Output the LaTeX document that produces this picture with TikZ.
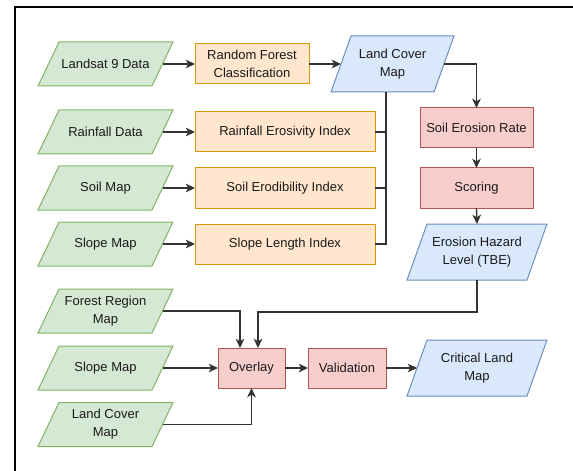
\documentclass[tikz,border=0pt]{standalone}
\usepackage{fontspec}
\setmainfont{Liberation Sans}
\usetikzlibrary{arrows.meta,calc,backgrounds}
\definecolor{gfill}{HTML}{D5E8D4}\definecolor{gdraw}{HTML}{82B366}
\definecolor{ofill}{HTML}{FFE6CC}\definecolor{odraw}{HTML}{D79B00}
\definecolor{bfill}{HTML}{DAE8FC}\definecolor{bdraw}{HTML}{6C8EBF}
\definecolor{rfill}{HTML}{F8CECC}\definecolor{rdraw}{HTML}{B85450}
\definecolor{edgec}{HTML}{333333}
\definecolor{txt}{HTML}{1A1A1A}
\begin{document}
\begin{tikzpicture}[x=0.75pt,y=-0.75pt,
  base/.style={font=\fontsize{9.75}{13.5}\selectfont, text=txt, line width=0.75pt, inner sep=0pt, outer sep=0pt, align=center},
  greenpara/.style={base, rectangle, minimum width=85.5pt, minimum height=33pt},
  bluepara/.style={base, rectangle, minimum height=42pt},
  greenshape/.style={fill=gfill, draw=gdraw, line width=0.75pt},
  blueshape/.style={fill=bfill, draw=bdraw, line width=0.75pt},
  orangebox/.style={base, rectangle, minimum height=30pt, fill=ofill, draw=odraw},
  redbox/.style={base, rectangle, minimum height=30pt, fill=rfill, draw=rdraw},
  ln/.style={draw=edgec, line width=1pt},
  arr/.style={ln, -{Stealth[length=7pt,width=6.5pt,inset=2pt]}}
]
\useasboundingbox (0,0) rectangle (573,470);
\draw[line width=1.5pt] (15,480) -- (15,7) -- (585,7);

% row 1
\node[greenpara] (ls) at (105.5,64) {Landsat 9 Data};
\node[orangebox, minimum width=85.5pt] (rf) at (252,64) {Random Forest\\Classification};
\node[bluepara, minimum width=77.25pt] (lc) at (392.5,64) {Land Cover\\Map};

% index rows
\node[greenpara] (rd) at (105.5,132) {Rainfall Data};
\node[orangebox, minimum width=135pt] (rei) at (285,132) {Rainfall Erosivity Index};
\node[greenpara] (sm) at (105.5,188) {Soil Map};
\node[orangebox, minimum width=135pt] (sei) at (285,188) {Soil Erodibility Index};
\node[greenpara] (slm) at (105.5,244) {Slope Map};
\node[orangebox, minimum width=135pt] (sli) at (285,244) {Slope Length Index};

% right column
\node[redbox, minimum width=84.75pt] (ser) at (476.5,128) {Soil Erosion Rate};
\node[redbox, minimum width=84.75pt] (sc) at (476.5,188) {Scoring};
\node[bluepara, minimum width=90pt] (tbe) at (477,252) {Erosion Hazard\\Level (TBE)};

% bottom
\node[greenpara] (frm) at (105.5,311) {Forest Region\\Map};
\node[greenpara] (sm2) at (105.5,368) {Slope Map};
\node[greenpara] (lc2) at (105.5,424.5) {Land Cover\\Map};
\node[redbox, minimum width=50.25pt] (ov) at (251.5,368) {Overlay};
\node[redbox, minimum width=58.5pt] (va) at (347,368) {Validation};
\node[bluepara, minimum width=90pt] (clm) at (477,368) {Critical Land\\Map};

% parallelogram outlines
\begin{scope}[on background layer]
\foreach \n in {ls,rd,sm,slm,frm,sm2,lc2}
  \filldraw[greenshape] ($(\n.south west)+(-10.5,0)$) -- ($(\n.north west)+(10.5,0)$)
     -- ($(\n.north east)+(10.5,0)$) -- ($(\n.south east)+(-10.5,0)$) -- cycle;
\foreach \n in {lc,tbe,clm}
  \filldraw[blueshape] ($(\n.south west)+(-10,0)$) -- ($(\n.north west)+(10,0)$)
     -- ($(\n.north east)+(10,0)$) -- ($(\n.south east)+(-10,0)$) -- cycle;
\end{scope}

% connectors
\draw[arr] (ls.east) -- (rf.west);
\draw[arr] (rf.east) -- (lc.west);
\draw[arr] (lc.east) -| (ser.north);
\draw[arr] (rd.east) -- (rei.west);
\draw[arr] (sm.east) -- (sei.west);
\draw[arr] (slm.east) -- (sli.west);
\coordinate (lcj) at ($(lc.south)+(-6.5,0)$);
\draw[ln] (sli.east) -| (lcj);
\draw[ln] (rei.east) -- (rei.east -| lcj);
\draw[ln] (sei.east) -- (sei.east -| lcj);
\draw[arr] (ser.south) -- (sc.north);
\draw[arr] (sc.south) -- (tbe.north);
\coordinate (tbeturn) at ($(tbe.south)+(0,32)$);
\draw[arr] (tbe.south) -- (tbeturn) -| ($(ov.north)+(6.5,0)$);
\draw[arr] (frm.east) -| ($(ov.north)+(-11.5,0)$);
\draw[arr] (sm2.east) -- (ov.west);
\draw[arr] (lc2.east) -| (ov.south);
\draw[arr] (ov.east) -- (va.west);
\draw[arr] (va.east) -- (clm.west);
\end{tikzpicture}
\end{document}
